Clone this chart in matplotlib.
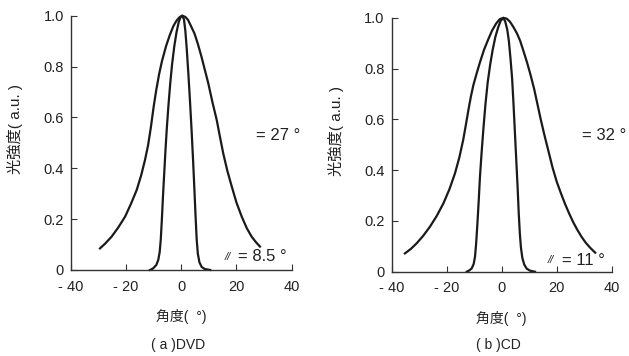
import numpy as np
import matplotlib
matplotlib.use('Agg')
import matplotlib.pyplot as plt

plt.rcParams['font.family'] = ['Liberation Sans', 'Noto Sans CJK JP']

# (a) DVD - wide curve
dvd_wide_x = [-29.4, -27.5, -25.2, -22.8, -20.3, -18.2, -16.1, -14.5, -13.1, -12.0, -11.0,
              -10.0, -9.0, -8.0, -7.0, -5.5, -4.1, -2.8, -1.6, -0.5, 0.4,
              1.5, 2.5, 3.5, 4.8, 6.0, 7.3, 8.6, 9.8, 11.3, 12.85, 14.0, 15.2, 16.7,
              18.3, 20.0, 21.9, 23.7, 25.5, 27.0, 28.5]
dvd_wide_y = [0.085, 0.104, 0.131, 0.167, 0.21, 0.26, 0.315, 0.372, 0.433, 0.49, 0.56,
              0.64, 0.71, 0.77, 0.82, 0.88, 0.925, 0.96, 0.982, 0.995, 1.0,
              0.995, 0.983, 0.96, 0.93, 0.89, 0.84, 0.785, 0.734, 0.66, 0.59, 0.525, 0.459, 0.39,
              0.328, 0.265, 0.21, 0.165, 0.131, 0.11, 0.092]
# (a) DVD - narrow curve
dvd_narrow_x = [-11.3, -10.2, -9.0, -8.3, -7.8, -7.4, -7.0, -6.6, -6.2, -5.7, -5.2, -4.6,
                -4.0, -3.3, -2.5, -1.7, -0.9, -0.2, 0.4,
                1.0, 1.5, 2.0, 2.6, 3.2, 3.8, 4.3, 4.8, 5.2, 5.6, 6.0, 6.6, 7.4, 8.5, 10.5]
dvd_narrow_y = [0.0, 0.006, 0.02, 0.04, 0.07, 0.12, 0.2, 0.29, 0.37, 0.47, 0.56, 0.65,
                0.73, 0.81, 0.88, 0.935, 0.975, 0.995, 1.0,
                0.985, 0.94, 0.87, 0.77, 0.66, 0.54, 0.43, 0.31, 0.21, 0.12, 0.065, 0.03, 0.012, 0.004, 0.0]

# (b) CD - wide curve
cd_wide_x = [-35.2, -33.0, -30.9, -28.5, -26.1, -23.6, -21.2, -19.0, -17.0, -15.4, -14.0,
             -13.0, -12.1, -11.2, -10.3, -9.0, -7.9, -6.4, -4.9, -3.5, -2.0, -0.7, 0.6,
             1.8, 3.0, 4.2, 5.5, 6.7, 7.9, 9.2, 10.5, 11.8, 13.0, 14.2, 15.5, 17.0, 18.5,
             20.0, 21.5, 23.0, 24.5, 26.0, 27.5, 29.0, 30.5, 32.2, 34.0]
cd_wide_y = [0.072, 0.09, 0.112, 0.142, 0.177, 0.22, 0.269, 0.325, 0.387, 0.45, 0.519,
             0.58, 0.637, 0.69, 0.735, 0.785, 0.825, 0.875, 0.915, 0.95, 0.978, 0.995, 1.0,
             0.997, 0.985, 0.965, 0.94, 0.91, 0.87, 0.825, 0.775, 0.72, 0.66, 0.6, 0.54, 0.475, 0.41,
             0.355, 0.31, 0.268, 0.23, 0.195, 0.165, 0.138, 0.115, 0.094, 0.075]
# (b) CD - narrow curve
cd_narrow_x = [-12.7, -11.8, -10.9, -10.2, -9.7, -9.3, -8.9, -8.4, -7.9, -7.3, -6.6, -5.9,
               -5.1, -4.2, -3.3, -2.3, -1.3, -0.4, 0.6,
               1.3, 2.0, 2.6, 3.2, 3.8, 4.3, 4.8, 5.3, 5.8, 6.2, 6.6, 7.0, 7.5, 8.2, 9.1, 10.3, 12.1]
cd_narrow_y = [0.0, 0.005, 0.013, 0.03, 0.059, 0.11, 0.177, 0.27, 0.374, 0.47, 0.57, 0.66,
               0.745, 0.815, 0.873, 0.925, 0.962, 0.988, 1.0,
               0.985, 0.955, 0.91, 0.84, 0.76, 0.66, 0.55, 0.44, 0.33, 0.23, 0.15, 0.095, 0.055, 0.028, 0.012, 0.004, 0.0]

xticks = [-40, -20, 0, 20, 40]
xticklabels = ['- 40', '- 20', '0', '20', '40']
yticks = [0, 0.2, 0.4, 0.6, 0.8, 1.0]
yticklabels = ['0', '0.2', '0.4', '0.6', '0.8', '1.0']

fig = plt.figure(figsize=(6.29, 3.56), dpi=100)
ax1 = fig.add_axes([0.1124, 0.2416, 0.3514, 0.7143])
ax2 = fig.add_axes([0.6227, 0.2368, 0.3498, 0.7130])

col = '#1a1a1a'
txt = '#222222'
panels = [
    (ax1, dvd_wide_x, dvd_wide_y, dvd_narrow_x, dvd_narrow_y),
    (ax2, cd_wide_x, cd_wide_y, cd_narrow_x, cd_narrow_y),
]
for ax, wx, wy, nx, ny in panels:
    ax.plot(wx, wy, color=col, lw=1.6, clip_on=False, solid_joinstyle='round')
    ax.plot(nx, ny, color=col, lw=1.6, clip_on=False, solid_joinstyle='round')
    ax.set_xlim(-40, 40)
    ax.set_ylim(0, 1.0)
    ax.spines['top'].set_visible(False)
    ax.spines['right'].set_visible(False)
    for s in ['left', 'bottom']:
        ax.spines[s].set_color('#333333')
        ax.spines[s].set_linewidth(1.0)
    ax.set_xticks(xticks)
    ax.set_xticklabels(xticklabels)
    ax.set_yticks(yticks)
    ax.set_yticklabels(yticklabels)
    ax.tick_params(direction='in', length=4, width=0.8, colors='#333333',
                   labelsize=10.5, labelcolor=txt)
    ax.tick_params(axis='x', pad=7)
    ax.tick_params(axis='y', pad=5)
    ax.set_ylabel('光強度( a.u. )', fontsize=11, color=txt)
    ax.yaxis.set_label_coords(-0.215, 0.555)
    ax.set_xlabel('角度(  °)', fontsize=10, color=txt, labelpad=11)

ax1.text(27.1, 0.53, '= 27 °', fontsize=12, color=txt, va='center', clip_on=False)
ax2.text(29.1, 0.538, '= 32 °', fontsize=12, color=txt, va='center', clip_on=False)

ax1.text(15.6, 0.05, '//', fontsize=8, style='italic', color=txt, va='center')
ax1.text(20.4, 0.055, '= 8.5 °', fontsize=12, color=txt, va='center', clip_on=False)
ax2.text(16.6, 0.045, '//', fontsize=8, style='italic', color=txt, va='center')
ax2.text(22.0, 0.046, '= 11 °', fontsize=12, color=txt, va='center', clip_on=False)

fig.text(178 / 629, 1 - 345 / 356, '( a )DVD', fontsize=10, color=txt, ha='center', va='center')
fig.text(498 / 629, 1 - 345 / 356, '( b )CD', fontsize=10, color=txt, ha='center', va='center')

fig.savefig('out.png', dpi=100)
